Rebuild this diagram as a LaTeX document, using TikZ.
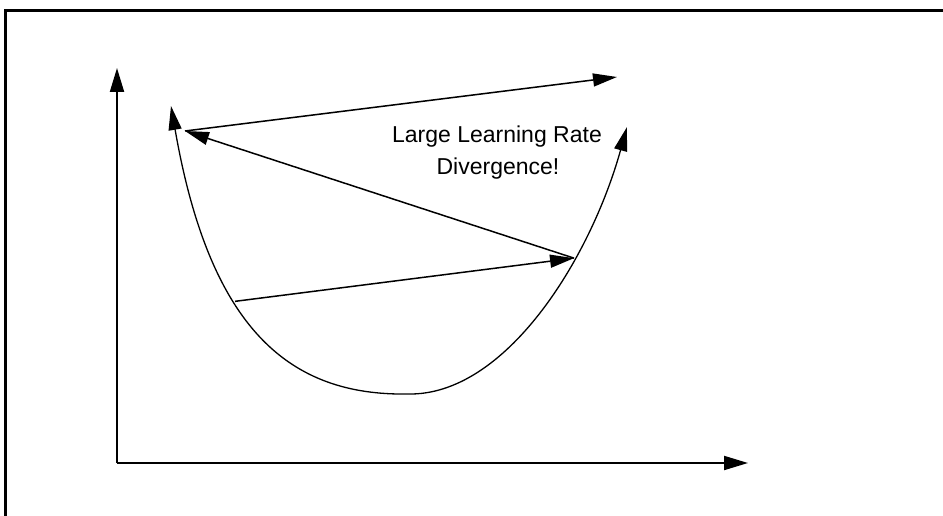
\documentclass[tikz,border=0pt]{standalone}
\usepackage{fontspec}
\setmainfont{Liberation Sans}
\usetikzlibrary{arrows.meta}
\begin{document}
\begin{tikzpicture}[x=1pt,y=-1pt,
  tip/.style={-{Triangle[length=24pt,width=13pt]}},
  axis/.style={line width=2pt,-{Triangle[length=24pt,width=14pt]}},
  stepline/.style={line width=1.5pt,tip},
  curveline/.style={line width=1.3pt,{Triangle[length=24pt,width=13pt]}-{Triangle[length=24pt,width=13pt]}},
  label/.style={font=\fontsize{23}{28}\selectfont,inner sep=0pt,anchor=base}]
\useasboundingbox (0,0) rectangle (943,516);
\fill[white] (0,0) rectangle (943,516);
% frame (top and left edges visible)
\draw[line width=3pt] (5,520) -- (5,11) -- (945,11);
% axes
\coordinate (O) at (117,463);
\coordinate (ytop) at (117,68);
\coordinate (xend) at (748,463);
\draw[axis] (O) -- (ytop);
\draw[axis] (O) -- (xend);
% loss curve
\coordinate (cTL) at (171,106);
\coordinate (cMin) at (408,394);
\coordinate (cTR) at (627,127);
\draw[curveline] (cTL) .. controls (210,330) and (290,396) .. (cMin) coordinate[pos=0.39] (cA)
  .. controls (505,396) and (590,260) .. (cTR) coordinate[pos=0.66] (cB);
% steps
\coordinate (p2) at (185,131);
\coordinate (p3) at (617,77);
\draw[stepline] (cA) -- (cB);
\draw[stepline] (cB) -- (p2);
\draw[stepline] (p2) -- (p3);
% label
\node[label] (t1) at (497,143) {Large Learning Rate};
\node[label] (t2) at (498,175) {Divergence!};
\end{tikzpicture}
\end{document}
